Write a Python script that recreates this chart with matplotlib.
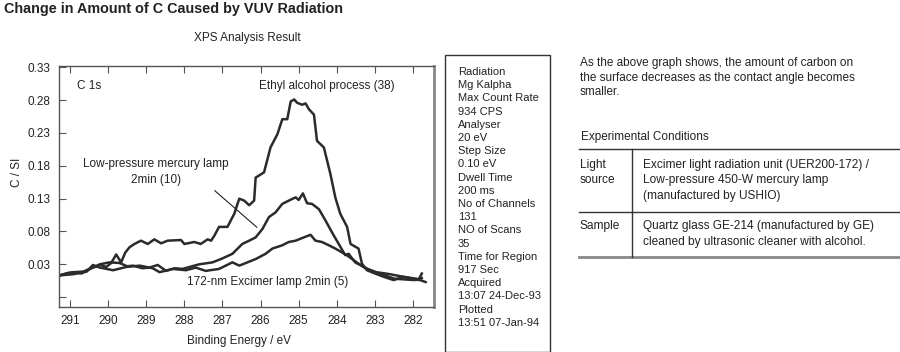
import matplotlib
matplotlib.use("Agg")
import matplotlib.pyplot as plt
from matplotlib.patches import Rectangle

plt.rcParams['font.family'] = ['Liberation Sans', 'DejaVu Sans']

# binding energy (eV) / C/Si ratio
ethyl_e = [291.29, 291.05, 290.91, 290.65, 290.45, 290.20, 290.05, 289.92, 289.79, 289.66,
           289.55, 289.44, 289.31, 289.14, 288.96, 288.79, 288.61, 288.44, 288.09, 288.00,
           287.74, 287.57, 287.39, 287.30, 287.22, 287.09, 286.87, 286.78, 286.69, 286.56,
           286.43, 286.30, 286.17, 286.13, 285.91, 285.74, 285.56, 285.43, 285.30, 285.21,
           285.12, 285.04, 284.91, 284.82, 284.73, 284.60, 284.52, 284.34, 284.17, 284.04,
           283.91, 283.73, 283.64, 283.43, 283.34, 283.21, 283.04, 282.77, 282.51, 282.25,
           281.99, 281.86, 281.77]
ethyl_v = [0.013, 0.017, 0.018, 0.019, 0.024, 0.029, 0.026, 0.032, 0.045, 0.033,
           0.048, 0.056, 0.061, 0.066, 0.061, 0.068, 0.062, 0.066, 0.067, 0.061,
           0.064, 0.061, 0.068, 0.066, 0.073, 0.087, 0.087, 0.097, 0.107, 0.130,
           0.127, 0.120, 0.127, 0.162, 0.170, 0.208, 0.228, 0.251, 0.251, 0.278,
           0.281, 0.276, 0.273, 0.275, 0.266, 0.258, 0.218, 0.208, 0.168, 0.132,
           0.107, 0.087, 0.061, 0.054, 0.031, 0.021, 0.017, 0.011, 0.006, 0.011,
           0.008, 0.006, 0.016]

mercury_e = [291.29, 290.91, 290.70, 290.48, 290.22, 289.96, 289.70, 289.50, 289.35, 289.10,
             288.92, 288.70, 288.48, 288.25, 288.05, 287.80, 287.61, 287.26, 287.00, 286.74,
             286.48, 286.30, 286.13, 285.95, 285.78, 285.61, 285.43, 285.26, 285.08, 285.00,
             284.89, 284.78, 284.65, 284.47, 284.30, 284.13, 283.95, 283.78, 283.69, 283.52,
             283.26, 283.00, 282.74, 282.48, 282.22, 281.96, 281.77]
mercury_v = [0.013, 0.018, 0.016, 0.023, 0.030, 0.033, 0.032, 0.027, 0.028, 0.024,
             0.025, 0.029, 0.020, 0.024, 0.023, 0.027, 0.030, 0.033, 0.039, 0.046,
             0.061, 0.066, 0.071, 0.084, 0.102, 0.109, 0.122, 0.127, 0.132, 0.128,
             0.138, 0.123, 0.122, 0.114, 0.097, 0.079, 0.061, 0.044, 0.046, 0.033,
             0.025, 0.018, 0.013, 0.008, 0.007, 0.006, 0.009]

excimer_e = [291.29, 290.91, 290.56, 290.40, 290.22, 289.87, 289.52, 289.17, 288.83, 288.65,
             288.31, 287.96, 287.70, 287.44, 287.09, 286.74, 286.56, 286.13, 285.87, 285.69,
             285.43, 285.26, 285.08, 284.91, 284.69, 284.56, 284.39, 284.21, 284.04, 283.74,
             283.48, 283.22, 282.96, 282.61, 282.26, 281.91, 281.67]
excimer_v = [0.013, 0.015, 0.019, 0.029, 0.025, 0.021, 0.026, 0.028, 0.024, 0.018,
             0.023, 0.021, 0.025, 0.020, 0.023, 0.033, 0.028, 0.038, 0.046, 0.054,
             0.059, 0.064, 0.066, 0.070, 0.075, 0.066, 0.064, 0.059, 0.054, 0.044,
             0.033, 0.023, 0.018, 0.015, 0.011, 0.008, 0.003]

y_ticks = [-0.02, 0.03, 0.08, 0.13, 0.18, 0.23, 0.28, 0.33]
x_ticks = [291, 290, 289, 288, 287, 286, 285, 284, 283, 282]

info_lines = ["Radiation", "Mg Kalpha", "Max Count Rate", "934 CPS", "Analyser",
              "20 eV", "Step Size", "0.10 eV", "Dwell Time", "200 ms",
              "No of Channels", "131", "NO of Scans", "35", "Time for Region",
              "917 Sec", "Acquired", "13:07 24-Dec-93", "Plotted", "13:51 07-Jan-94"]

W, H = 900, 352
fig = plt.figure(figsize=(9, 3.52), dpi=100)

def fx(px):
    return px / W

def fy(py):
    return 1 - py / H

ax = fig.add_axes([fx(59), fy(307), (434 - 59) / W, (307 - 66) / H])
col = '#2b2b2b'
for e, v in [(ethyl_e, ethyl_v), (mercury_e, mercury_v), (excimer_e, excimer_v)]:
    ax.plot(e, v, color=col, lw=1.8, solid_joinstyle='round')

ax.set_xlim(291.29, 281.45)
ax.set_ylim(-0.035, 0.332)
ax.set_xticks(x_ticks)
ax.set_xticklabels([str(t) for t in x_ticks])
ax.set_yticks(y_ticks)
ax.set_yticklabels(['' if t < 0 else '%.2f' % t for t in y_ticks])
ax.tick_params(direction='in', length=5, width=0.8, color='#555555',
               labelsize=8.5, labelcolor='#222222', top=True, pad=6)
for s in ax.spines.values():
    s.set_color('#555555')
    s.set_linewidth(1.0)
ax.spines['right'].set_linewidth(2.0)
ax.spines['right'].set_color('#888888')

ax.set_xlabel('Binding Energy / eV', fontsize=8.5, color='#222222')
ax.xaxis.set_label_coords(0.48, -0.115)
ax.set_ylabel('C / SI', fontsize=8.5, color='#222222')
ax.yaxis.set_label_coords(-0.097, 0.56)

ax.text(290.82, 0.301, 'C 1s', fontsize=8.5, va='center', color='#222222')
ax.text(284.26, 0.301, 'Ethyl alcohol process (38)', fontsize=8.5,
        ha='center', va='center', color='#222222')
ax.text(288.74, 0.183, 'Low-pressure mercury lamp', fontsize=8.5,
        ha='center', va='center', color='#222222')
ax.text(288.74, 0.159, '2min (10)', fontsize=8.5, ha='center', va='center', color='#222222')
ax.text(285.82, 0.003, '172-nm Excimer lamp 2min (5)', fontsize=8.5,
        ha='center', va='center', color='#222222')
ax.plot([287.2, 286.1], [0.142, 0.0865], color='#222222', lw=0.8)

fig.text(fx(4), fy(9), 'Change in Amount of C Caused by VUV Radiation',
         fontsize=10.4, fontweight='bold', va='center', color='#222222')
fig.text(fx(247), fy(38), 'XPS Analysis Result', fontsize=8.5,
         ha='center', va='center', color='#222222')

# info box
fig.patches.append(Rectangle((fx(445), fy(352)), (550 - 445) / W, (352 - 55) / H,
                             transform=fig.transFigure, fill=False,
                             edgecolor='#333333', lw=1.0))
for i, line in enumerate(info_lines):
    fig.text(fx(458), fy(72 + i * 13.2), line, fontsize=8, va='center', color='#222222')

# right-hand notes
para = ["As the above graph shows, the amount of carbon on",
        "the surface decreases as the contact angle becomes",
        "smaller."]
for i, line in enumerate(para):
    fig.text(fx(580), fy(63 + i * 14.5), line, fontsize=8.5, va='center', color='#222222')
fig.text(fx(581), fy(137), 'Experimental Conditions', fontsize=8.5, va='center', color='#222222')

fig.add_artist(plt.Line2D([fx(579), fx(900)], [fy(149), fy(149)], color='#333333', lw=1.0))
fig.add_artist(plt.Line2D([fx(579), fx(900)], [fy(212), fy(212)], color='#333333', lw=1.0))
fig.add_artist(plt.Line2D([fx(579), fx(900)], [fy(257), fy(257)], color='#888888', lw=2.0))
fig.add_artist(plt.Line2D([fx(632), fx(632)], [fy(149), fy(257)], color='#333333', lw=1.0))

cells = [(580, 165, 'Light'), (580, 180, 'source'),
         (643, 165, 'Excimer light radiation unit (UER200-172) /'),
         (643, 180, 'Low-pressure 450-W mercury lamp'),
         (643, 196, '(manufactured by USHIO)'),
         (580, 226, 'Sample'),
         (643, 226, 'Quartz glass GE-214 (manufactured by GE)'),
         (643, 242, 'cleaned by ultrasonic cleaner with alcohol.')]
for x, y, t in cells:
    fig.text(fx(x), fy(y), t, fontsize=8.6, va='center', color='#222222')

fig.savefig('out.png', dpi=100)
